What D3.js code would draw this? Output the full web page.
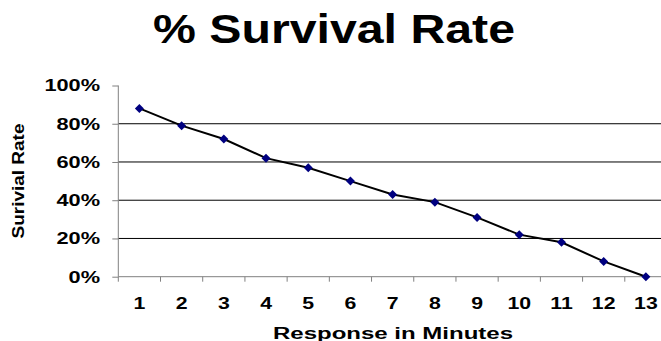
<!DOCTYPE html>
<html><head><meta charset="utf-8">
<script src="https://cdn.jsdelivr.net/npm/d3@7"></script>
<style>html,body{margin:0;padding:0;background:#fff;}svg{display:block;}</style>
</head><body>
<script>
const minutes = ["1","2","3","4","5","6","7","8","9","10","11","12","13"];
const survival = [88,79,72,62,57,50,43,39,31,22,18,8,0];
const yTicks = [0,20,40,60,80,100];
const chartTitle = "% Survival Rate";
const xTitle = "Response in Minutes";
const yTitle = "Surivial Rate";

const W = 661, H = 341;
const svg = d3.select("body").append("svg").attr("width", W).attr("height", H);
const font = "'Liberation Sans', Arial, Helvetica, sans-serif";

const x = d3.scaleBand().domain(minutes).range([118.3, 667]).paddingInner(0).paddingOuter(0);
const y = d3.scaleLinear().domain([0,100]).range([276.7, 85.5]);

// gridlines
svg.append("g").selectAll("line").data(yTicks.filter(d => d > 0 && d < 100)).join("line")
  .attr("x1", 118.3).attr("x2", 667).attr("y1", d => y(d)).attr("y2", d => y(d))
  .attr("stroke", "#000").attr("stroke-width", 1);

// y axis
const yAxis = svg.append("g").attr("transform", "translate(118.3,0)")
  .call(d3.axisLeft(y).tickValues(yTicks).tickSize(6).tickFormat(d => d + "%"));
yAxis.select(".domain").attr("stroke", "#808080").attr("d", `M0,${y(100)}V${y(0)}`);
yAxis.selectAll(".tick line").attr("stroke", "#808080");
yAxis.selectAll(".tick text").remove();
svg.append("g").selectAll("text").data(yTicks).join("text")
  .attr("transform", d => `translate(100,${y(d) + 5.8}) scale(1.36,1)`)
  .attr("text-anchor", "end")
  .attr("font-family", font).attr("font-weight", "bold").attr("font-size", 16)
  .attr("fill", "#000").text(d => d + "%");

// x axis
const xAxis = svg.append("g").attr("transform", `translate(0,${y(0)})`)
  .call(d3.axisBottom(x).tickSize(0).tickFormat(""));
xAxis.select(".domain").attr("stroke", "#808080").attr("d", `M118.3,0H667`);
xAxis.selectAll(".tick").remove();
const bounds = minutes.map(m => x(m)).concat([x(minutes[minutes.length-1]) + x.bandwidth()]);
xAxis.append("g").selectAll("line").data(bounds).join("line")
  .attr("x1", d => d).attr("x2", d => d).attr("y1", 0).attr("y2", 5)
  .attr("stroke", "#808080");
svg.append("g").selectAll("text").data(minutes).join("text")
  .attr("transform", d => `translate(${x(d) + x.bandwidth()/2},309) scale(1.25,1)`)
  .attr("text-anchor", "middle")
  .attr("font-family", font).attr("font-weight", "bold").attr("font-size", 17)
  .attr("fill", "#000").text(d => d);

// line
const pts = minutes.map((m, i) => [x(m) + x.bandwidth()/2, y(survival[i])]);
svg.append("path").attr("d", d3.line()(pts))
  .attr("fill", "none").attr("stroke", "#000").attr("stroke-width", 2);
svg.append("g").selectAll("path").data(pts).join("path")
  .attr("transform", d => `translate(${d[0]},${d[1]})`)
  .attr("d", "M0,-4.5L4.5,0L0,4.5L-4.5,0Z").attr("fill", "#000080");

// titles
svg.append("text").attr("x", 334).attr("y", 42.7).attr("text-anchor", "middle")
  .attr("font-family", font).attr("font-weight", "bold").attr("font-size", 40)
  .attr("textLength", 362).attr("lengthAdjust", "spacingAndGlyphs")
  .text(chartTitle);
svg.append("text").attr("x", 393).attr("y", 339).attr("text-anchor", "middle")
  .attr("font-family", font).attr("font-weight", "bold").attr("font-size", 16)
  .attr("textLength", 240).attr("lengthAdjust", "spacingAndGlyphs")
  .text(xTitle);
svg.append("text").attr("transform", "translate(24,181) rotate(-90)").attr("text-anchor", "middle")
  .attr("font-family", font).attr("font-weight", "bold").attr("font-size", 17)
  .attr("textLength", 115).attr("lengthAdjust", "spacingAndGlyphs")
  .text(yTitle);
</script>
</body></html>
